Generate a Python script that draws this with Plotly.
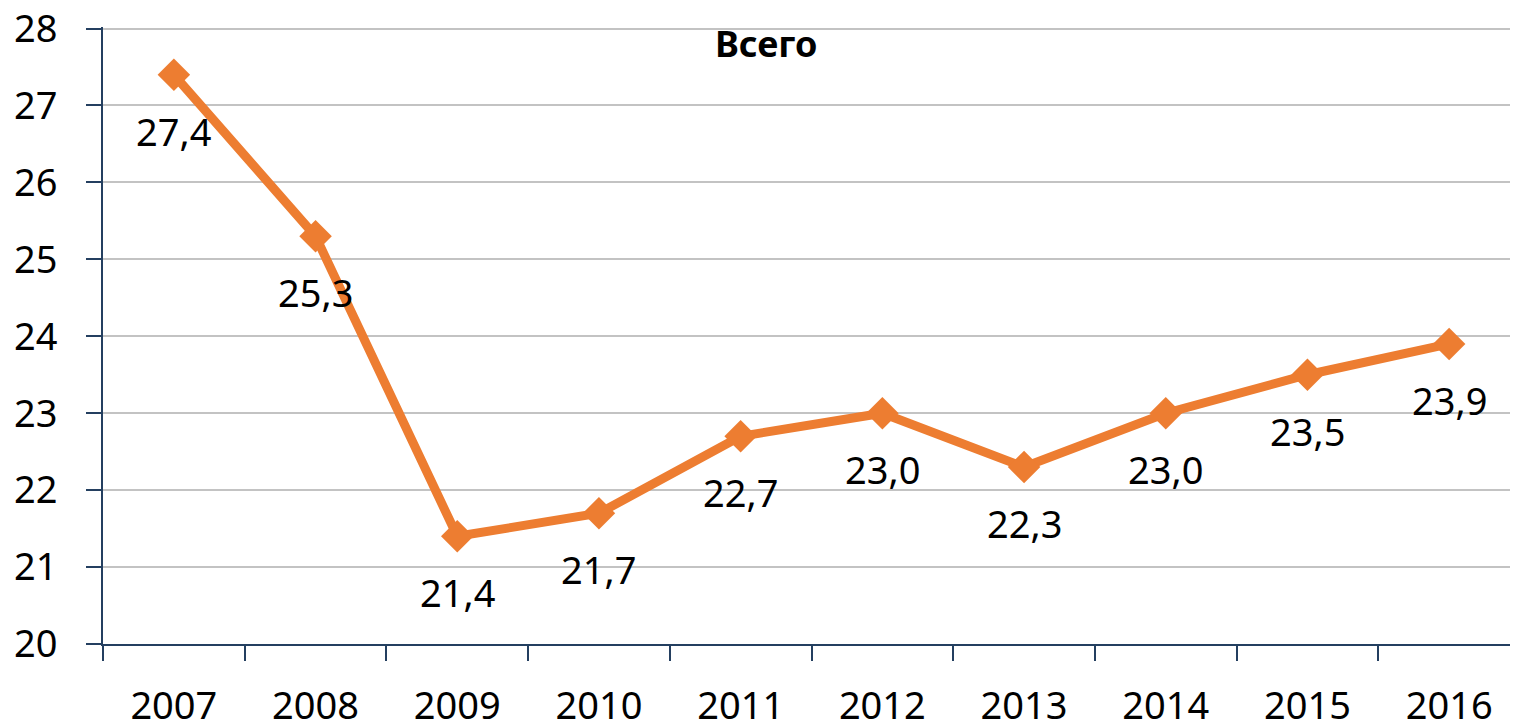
import plotly.graph_objects as go

years = ["2007", "2008", "2009", "2010", "2011", "2012", "2013", "2014", "2015", "2016"]
values = [27.4, 25.3, 21.4, 21.7, 22.7, 23.0, 22.3, 23.0, 23.5, 23.9]
labels = [f"{v:.1f}".replace(".", ",") for v in values]
y_ticks = [20, 21, 22, 23, 24, 25, 26, 27, 28]
title_text = "Всего"

ORANGE = "#ED7D31"
AXIS = "#243F60"
GRID = "#C3C3C3"
FONT = "Noto Sans"

fig = go.Figure()
fig.add_trace(go.Scatter(
    x=years, y=values, mode="lines+markers",
    line=dict(color=ORANGE, width=9),
    marker=dict(symbol="diamond", size=25, color=ORANGE),
    showlegend=False, hoverinfo="skip", cliponaxis=False,
))

for i, (y, t) in enumerate(zip(values, labels)):
    fig.add_annotation(x=i, y=y, text=t, showarrow=False, yshift=-56,
                       font=dict(family=FONT, size=38, color="#000000"))

fig.add_annotation(x=0.468, xref="paper", y=1.0, yref="paper", yanchor="top",
                   yshift=10, text=f"<b>{title_text}</b>", showarrow=False,
                   font=dict(family=FONT, size=36, color="#000000"))

fig.update_layout(
    width=1518, height=725,
    margin=dict(l=95, r=6, t=19, b=89),
    paper_bgcolor="white", plot_bgcolor="white",
    font=dict(family=FONT, size=38, color="#000000"),
    xaxis=dict(
        type="category", range=[-0.5, 9.5], automargin=False,
        showline=True, linecolor=AXIS, linewidth=2,
        ticks="outside", tickson="boundaries", ticklen=15, tickwidth=2, tickcolor=AXIS,
        showgrid=False, ticklabelstandoff=27, ticklabeloverflow="allow",
        tickfont=dict(family=FONT, size=38),
    ),
    yaxis=dict(
        range=[20, 28.02], tickvals=y_ticks, automargin=False,
        showline=True, linecolor=AXIS, linewidth=2,
        ticks="outside", ticklen=15, tickwidth=2, tickcolor=AXIS,
        showgrid=True, gridcolor=GRID, gridwidth=2, zeroline=False,
        ticklabelstandoff=21, ticklabeloverflow="allow",
        tickfont=dict(family=FONT, size=38),
    ),
)

fig.write_html("out.html")
